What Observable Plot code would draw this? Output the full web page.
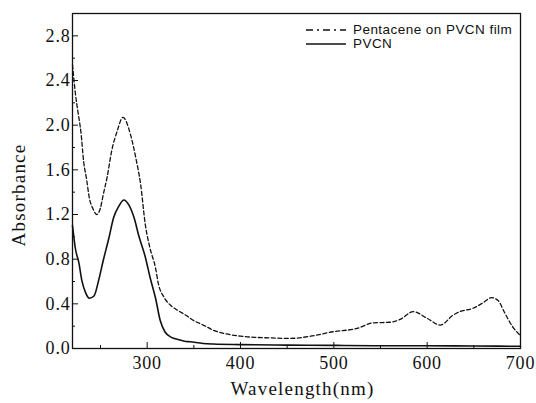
<!DOCTYPE html>
<html>
<head>
<meta charset="utf-8">
<script src="https://cdn.jsdelivr.net/npm/d3@7"></script>
<script src="https://cdn.jsdelivr.net/npm/@observablehq/plot@0.6"></script>
<style>
  html, body { margin: 0; padding: 0; background: white; }
  #wrap { position: relative; width: 536px; height: 403px; }
  #legend { position: absolute; left: 305px; top: 23px; font-family: "Liberation Sans", Arial, sans-serif; font-size: 13.5px; letter-spacing: 0.45px; line-height: 14px; color: #111; }
  #legend .row { display: flex; align-items: center; height: 14px; }
  #legend svg { display: block; margin-right: 6px; }
</style>
</head>
<body>
<div id="wrap"></div>
<script>
// Series: Pentacene on PVCN film (dashed)
const pentaceneWl  = [220, 223, 226, 229, 232, 235, 238, 242, 246, 250, 253, 257, 262, 268, 274, 282, 288, 293, 298, 303, 309, 312, 318, 326, 333, 341, 350, 360, 372, 385, 400, 415, 432, 453, 475, 499, 525, 542, 560, 571, 585, 600, 614, 628, 635, 649, 660, 669, 676, 683, 692, 700];
const pentaceneAbs = [2.54, 2.29, 2.11, 1.94, 1.67, 1.52, 1.35, 1.25, 1.20, 1.26, 1.38, 1.53, 1.77, 1.95, 2.07, 1.92, 1.70, 1.47, 1.11, 0.90, 0.72, 0.58, 0.46, 0.38, 0.34, 0.30, 0.25, 0.21, 0.16, 0.13, 0.11, 0.10, 0.095, 0.09, 0.11, 0.15, 0.18, 0.23, 0.235, 0.26, 0.33, 0.27, 0.21, 0.30, 0.33, 0.36, 0.41, 0.455, 0.43, 0.32, 0.19, 0.115];
// Series: PVCN (solid)
const pvcnWl  = [220, 223, 227, 230, 234, 238, 243, 248, 253, 259, 264, 270, 275, 280, 286, 291, 298, 303, 309, 314, 319, 326, 333, 340, 346, 360, 371, 400, 450, 500, 550, 600, 650, 700];
const pvcnAbs = [1.10, 0.90, 0.76, 0.61, 0.50, 0.45, 0.47, 0.61, 0.79, 0.99, 1.17, 1.28, 1.33, 1.29, 1.17, 1.01, 0.82, 0.64, 0.45, 0.25, 0.15, 0.10, 0.08, 0.065, 0.06, 0.045, 0.04, 0.035, 0.03, 0.028, 0.025, 0.025, 0.022, 0.02];

// Ticks
const xMajor = [300, 400, 500, 600, 700];
const xMinor = [250, 350, 450, 550, 650];
const yMajor = [0.0, 0.4, 0.8, 1.2, 1.6, 2.0, 2.4, 2.8];
const yMinor = [0.2, 0.6, 1.0, 1.4, 1.8, 2.2, 2.6];

// Labels
const xTitle = "Wavelength(nm)";
const yTitle = "Absorbance";
const seriesNames = ["Pentacene on PVCN film", "PVCN"];

const pentacene = pentaceneWl.map((w, i) => ({wl: w, abs: pentaceneAbs[i]}));
const pvcn = pvcnWl.map((w, i) => ({wl: w, abs: pvcnAbs[i]}));

const serif = "'Liberation Serif', 'DejaVu Serif', serif";

const chart = Plot.plot({
  width: 536,
  height: 403,
  marginLeft: 72,
  marginRight: 16,
  marginTop: 13,
  marginBottom: 55,
  x: {domain: [220, 700]},
  y: {domain: [0, 3.0]},
  style: {fontFamily: serif, fontSize: "18px", color: "#111", background: "white", overflow: "visible"},
  marks: [
    Plot.line(pentacene, {x: "wl", y: "abs", stroke: "#111", strokeWidth: 1.3, strokeDasharray: "4,2.5", curve: "monotone-x"}),
    Plot.line(pvcn, {x: "wl", y: "abs", stroke: "#111", strokeWidth: 1.6, curve: "monotone-x"}),
    Plot.frame({stroke: "#111", strokeWidth: 1.3}),
    Plot.axisX(xMajor, {anchor: "bottom", tickSize: -6, tickPadding: 14, label: null, tickFormat: d3.format("d"), fontSize: 18}),
    Plot.axisX(xMinor, {anchor: "bottom", tickSize: -3, text: null, label: null}),
    Plot.axisY(yMajor, {anchor: "left", tickSize: -6, tickPadding: 8, label: null, tickFormat: d3.format(".1f"), fontSize: 18}),
    Plot.axisY(yMinor, {anchor: "left", tickSize: -3, text: null, label: null}),
    Plot.text([xTitle], {frameAnchor: "bottom", dx: 6, dy: 46, fontSize: 19, fill: "#111", textAnchor: "middle"}),
    Plot.text([yTitle], {frameAnchor: "left", dx: -54, dy: 14, rotate: -90, fontSize: 19, fill: "#111", textAnchor: "middle"})
  ]
});

// serif typography with the wide letter spacing of the original
d3.select(chart).selectAll("text").style("font-family", serif);
d3.select(chart).selectAll("g[aria-label$='tick label'] text").style("font-size", "18px").style("letter-spacing", "0.8px");
d3.select(chart).selectAll("g[aria-label='text'] text").style("letter-spacing", "1.2px");

const wrap = document.getElementById("wrap");
wrap.appendChild(chart);

const legend = document.createElement("div");
legend.id = "legend";
legend.innerHTML = `
  <div class="row"><svg width="42" height="12"><line x1="1" y1="6" x2="41" y2="6" stroke="#111" stroke-width="1.4" stroke-dasharray="7,4,2,4"/></svg><span>${seriesNames[0]}</span></div>
  <div class="row"><svg width="42" height="12"><line x1="1" y1="6" x2="41" y2="6" stroke="#111" stroke-width="1.6"/></svg><span>${seriesNames[1]}</span></div>
`;
wrap.appendChild(legend);
</script>
</body>
</html>
